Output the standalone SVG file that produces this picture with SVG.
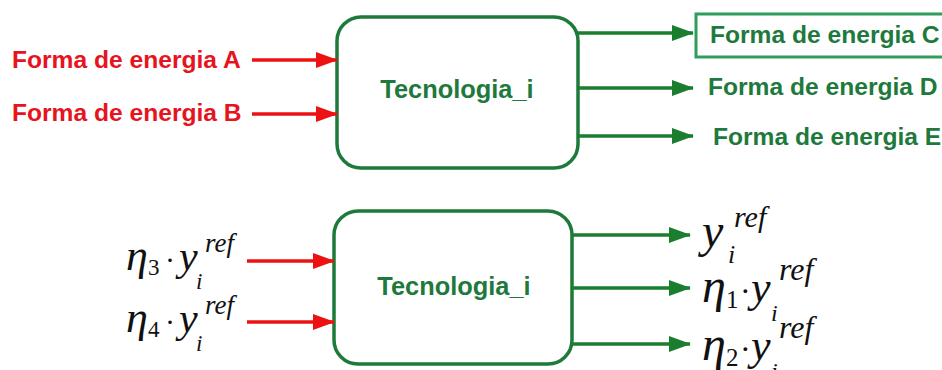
<svg xmlns="http://www.w3.org/2000/svg" width="942" height="370" viewBox="0 0 942 370">
  <defs>
    <marker id="headRed" markerUnits="userSpaceOnUse" markerWidth="22" markerHeight="16" refX="21" refY="8" orient="auto">
      <path d="M0,0 L22,8 L0,16 Z" fill="#ee1111"/>
    </marker>
    <marker id="headGreen" markerUnits="userSpaceOnUse" markerWidth="22" markerHeight="16" refX="21" refY="8" orient="auto">
      <path d="M0,0 L22,8 L0,16 Z" fill="#1b7d2e"/>
    </marker>
  </defs>
  <style>
    .box { fill: #ffffff; stroke: #1d7a3a; stroke-width: 3.5; }
    .lbl { font-family: "Liberation Sans", Arial, sans-serif; font-weight: bold; font-size: 24.6px; }
    .tech { font-size: 25.4px; }
    .red { fill: #e5141e; }
    .grn { fill: #1e7a3c; }
    .in { stroke: #ee1111; stroke-width: 3.5; fill: none; marker-end: url(#headRed); }
    .out { stroke: #1b7d2e; stroke-width: 3.5; fill: none; marker-end: url(#headGreen); }
    .math { font-family: "Liberation Serif", "Times New Roman", serif; fill: #111111; }
    .it { font-style: italic; }
  </style>

  <rect width="942" height="370" fill="#ffffff"/>

  <!-- upper block: energy forms -->
  <g id="tech-top">
    <rect class="box" x="337" y="17" width="241" height="151" rx="24" ry="24"/>
    <text class="lbl tech grn" x="457" y="98" text-anchor="middle">Tecnologia_i</text>
  </g>
  <g id="in-a">
    <text class="lbl red" x="12" y="68">Forma de energia A</text>
  </g>
  <g id="in-b">
    <text class="lbl red" x="12" y="121">Forma de energia B</text>
  </g>
  <g id="out-c">
    <rect x="696" y="14" width="250" height="43" fill="#ffffff" stroke="#2f9e5c" stroke-width="3"/>
    <text class="lbl grn" x="710" y="43">Forma de energia C</text>
  </g>
  <g id="out-d">
    <text class="lbl grn" x="708" y="95">Forma de energia D</text>
  </g>
  <g id="out-e">
    <text class="lbl grn" x="713" y="145">Forma de energia E</text>
  </g>

  <!-- lower block: efficiencies -->
  <g id="tech-bottom">
    <rect class="box" x="334" y="211" width="238" height="153" rx="24" ry="24"/>
    <text class="lbl tech grn" x="454" y="295" text-anchor="middle">Tecnologia_i</text>
  </g>
  <g id="in-eta3" class="math">
    <text class="it" x="126" y="270" font-size="44">η</text>
    <text x="148" y="275" font-size="23">3</text>
    <text x="165" y="270" font-size="30">·</text>
    <text class="it" x="179" y="270" font-size="42">y</text>
    <text class="it" x="196" y="289" font-size="23">i</text>
    <text class="it" x="205" y="252" font-size="27">ref</text>
  </g>
  <g id="in-eta4" class="math">
    <text class="it" x="126" y="332" font-size="44">η</text>
    <text x="148" y="337" font-size="23">4</text>
    <text x="165" y="332" font-size="30">·</text>
    <text class="it" x="179" y="332" font-size="42">y</text>
    <text class="it" x="196" y="351" font-size="23">i</text>
    <text class="it" x="205" y="314" font-size="27">ref</text>
  </g>
  <g id="out-y" class="math">
    <text class="it" x="702" y="247" font-size="48">y</text>
    <text class="it" x="728" y="263" font-size="26">i</text>
    <text class="it" x="734" y="227" font-size="30">ref</text>
  </g>
  <g id="out-eta1" class="math">
    <text class="it" x="702" y="302" font-size="48">η</text>
    <text x="726" y="308" font-size="25">1</text>
    <text x="740" y="302" font-size="32">·</text>
    <text class="it" x="751" y="302" font-size="44">y</text>
    <text class="it" x="771" y="321" font-size="24">i</text>
    <text class="it" x="779" y="280" font-size="32">ref</text>
  </g>
  <g id="out-eta2" class="math">
    <text class="it" x="702" y="360" font-size="48">η</text>
    <text x="726" y="366" font-size="25">2</text>
    <text x="740" y="360" font-size="32">·</text>
    <text class="it" x="751" y="360" font-size="44">y</text>
    <text class="it" x="771" y="379" font-size="24">i</text>
    <text class="it" x="779" y="338" font-size="32">ref</text>
  </g>

  <!-- connectors -->
  <g id="connectors">
    <line class="in" x1="252" y1="60" x2="337" y2="60"/>
    <line class="in" x1="252" y1="114" x2="337" y2="114"/>
    <line class="out" x1="578" y1="33" x2="693" y2="33"/>
    <line class="out" x1="578" y1="88" x2="693" y2="88"/>
    <line class="out" x1="578" y1="136" x2="693" y2="136"/>
    <line class="in" x1="247" y1="261" x2="334" y2="261"/>
    <line class="in" x1="247" y1="322" x2="334" y2="322"/>
    <line class="out" x1="572" y1="235" x2="690" y2="235"/>
    <line class="out" x1="572" y1="288" x2="690" y2="288"/>
    <line class="out" x1="572" y1="344" x2="690" y2="344"/>
  </g>
</svg>
